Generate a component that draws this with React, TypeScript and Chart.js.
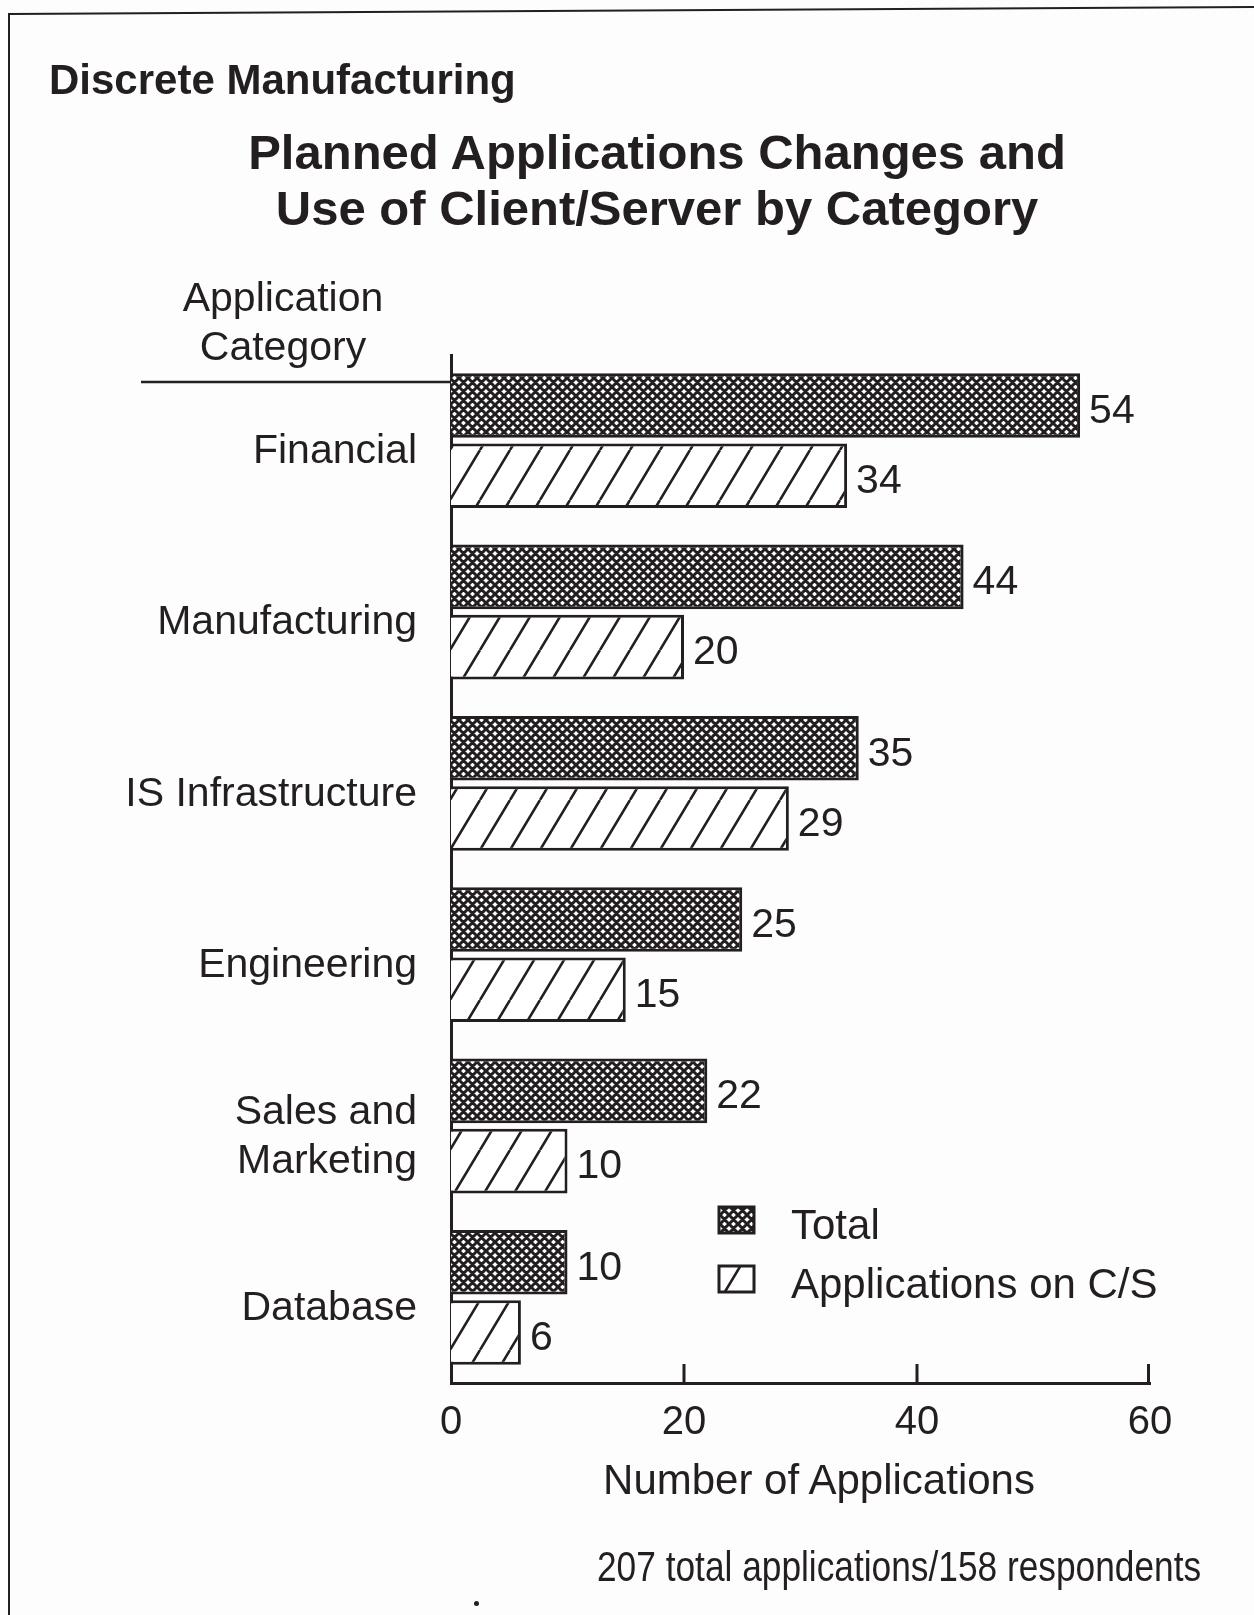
import React, { useEffect, useRef } from "react";
import { Chart, registerables } from "chart.js";

Chart.register(...registerables);

// ---- data ----
const categories: (string | string[])[] = [
  "Financial",
  "Manufacturing",
  "IS Infrastructure",
  "Engineering",
  ["Sales and", "Marketing"],
  "Database",
];
const totalValues = [54, 44, 35, 25, 22, 10];
const csValues = [34, 20, 29, 15, 10, 6];
const seriesLabels = ["Total", "Applications on C/S"];
const xTicks = [0, 20, 40, 60];

const subtitleText = "Discrete Manufacturing";
const titleLines = ["Planned Applications Changes and", "Use of Client/Server by Category"];
const yHeaderLines = ["Application", "Category"];
const xTitleText = "Number of Applications";
const footnoteText = "207 total applications/158 respondents";

const INK = "#231f20";
const FONT = "'Liberation Sans', Arial, Helvetica, sans-serif";

function makeCross(): CanvasPattern | string {
  const c = document.createElement("canvas");
  c.width = 9;
  c.height = 9;
  const g = c.getContext("2d");
  if (!g) return INK;
  g.fillStyle = "#ffffff";
  g.fillRect(0, 0, 9, 9);
  g.strokeStyle = INK;
  g.lineWidth = 3;
  g.beginPath();
  for (const o of [-9, 0, 9]) {
    g.moveTo(o, 0);
    g.lineTo(o + 9, 9);
    g.moveTo(o, 9);
    g.lineTo(o + 9, 0);
  }
  g.stroke();
  return g.createPattern(c, "repeat") || INK;
}

function makeHatch(): CanvasPattern | string {
  const w = 30;
  const h = 50;
  const c = document.createElement("canvas");
  c.width = w;
  c.height = h;
  const g = c.getContext("2d");
  if (!g) return "#fff";
  g.fillStyle = "#ffffff";
  g.fillRect(0, 0, w, h);
  g.strokeStyle = INK;
  g.lineWidth = 2.6;
  g.beginPath();
  for (const o of [-w, 0, w]) {
    g.moveTo(o, h);
    g.lineTo(o + w, 0);
  }
  g.stroke();
  return g.createPattern(c, "repeat") || "#fff";
}

const decorPlugin = {
  id: "decor",
  afterDraw(chart: any) {
    const ctx: CanvasRenderingContext2D = chart.ctx;
    const area = chart.chartArea;
    const xs = chart.scales.x;
    ctx.save();

    // page frame
    ctx.strokeStyle = INK;
    ctx.lineWidth = 2;
    ctx.beginPath();
    ctx.moveTo(9, 1615);
    ctx.lineTo(9, 14);
    ctx.lineTo(1254, 7);
    ctx.stroke();

    // header underline
    ctx.lineWidth = 2.5;
    ctx.beginPath();
    ctx.moveTo(141, area.top + 27);
    ctx.lineTo(area.left, area.top + 27);
    ctx.stroke();

    // upward tick marks on x axis
    ctx.lineWidth = 3;
    ctx.beginPath();
    for (const t of xs.ticks) {
      if (t.value === xs.min) continue;
      const px = Math.min(xs.getPixelForValue(t.value), area.right - 1.5);
      ctx.moveTo(px, area.bottom);
      ctx.lineTo(px, area.bottom - 19);
    }
    ctx.stroke();

    // value labels
    ctx.fillStyle = INK;
    ctx.font = `41px ${FONT}`;
    ctx.textAlign = "left";
    ctx.textBaseline = "middle";
    chart.data.datasets.forEach((ds: any, di: number) => {
      const meta = chart.getDatasetMeta(di);
      meta.data.forEach((el: any, i: number) => {
        ctx.fillText(String(ds.data[i]), el.x + 9, el.y + 6);
      });
    });

    // legend
    const lx = 719;
    const ly = [1207, 1266];
    chart.data.datasets.forEach((ds: any, di: number) => {
      const y = ly[di];
      ctx.fillStyle = ds.backgroundColor;
      ctx.fillRect(lx, y, 35, 26);
      ctx.strokeStyle = INK;
      ctx.lineWidth = 3;
      ctx.strokeRect(lx, y, 35, 26);
      ctx.fillStyle = INK;
      ctx.font = `42px ${FONT}`;
      ctx.textBaseline = "middle";
      ctx.fillText(ds.label, 791, y + 20);
    });

    ctx.restore();
  },
};

export default function App() {
  const ref = useRef<HTMLCanvasElement | null>(null);

  useEffect(() => {
    const canvas = ref.current;
    if (!canvas) return;
    const cross = makeCross();
    const hatch = makeHatch();
    const chart = new Chart(canvas, {
      type: "bar",
      data: {
        labels: categories as any,
        datasets: [
          {
            label: seriesLabels[0],
            data: totalValues,
            backgroundColor: cross as any,
            borderColor: INK,
            borderWidth: 3,
            categoryPercentage: 0.82,
            barPercentage: 0.92,
          },
          {
            label: seriesLabels[1],
            data: csValues,
            backgroundColor: hatch as any,
            borderColor: INK,
            borderWidth: 3,
            categoryPercentage: 0.82,
            barPercentage: 0.92,
          },
        ],
      },
      options: {
        indexAxis: "y",
        responsive: false,
        animation: false,
        devicePixelRatio: 1,
        layout: { padding: { top: 355, right: 104, bottom: 0, left: 0 } },
        plugins: {
          legend: { display: false },
          tooltip: { enabled: false },
          title: { display: false },
        },
        scales: {
          x: {
            type: "linear",
            position: "bottom",
            min: 0,
            max: 60,
            afterBuildTicks: (s: any) => {
              s.ticks = xTicks.map((v) => ({ value: v }));
            },
            ticks: {
              font: { family: FONT, size: 40 },
              color: INK,
              padding: 16,
              maxRotation: 0,
            },
            grid: { display: false, drawTicks: false },
            border: { display: true, color: INK, width: 3 },
            afterFit: (s: any) => {
              s.height = 232;
            },
          },
          y: {
            type: "category",
            ticks: {
              font: { family: FONT, size: 41, lineHeight: 1.2 },
              color: INK,
              padding: 34,
              labelOffset: 11,
            },
            grid: { display: false, drawTicks: false },
            border: { display: true, color: INK, width: 3 },
            afterFit: (s: any) => {
              s.width = 451;
            },
          },
        },
      } as any,
      plugins: [decorPlugin],
    });
    return () => chart.destroy();
  }, []);

  const base: React.CSSProperties = {
    position: "absolute",
    fontFamily: FONT,
    color: INK,
    whiteSpace: "nowrap",
    margin: 0,
  };

  return (
    <div
      style={{
        position: "absolute",
        left: 0,
        top: 0,
        width: 1254,
        height: 1615,
        background: "#fdfdfd",
        overflow: "hidden",
      }}
    >
      <canvas ref={ref} width={1254} height={1615} style={{ position: "absolute", left: 0, top: 0 }} />
      <div style={{ ...base, left: 49, top: 55, fontSize: 42, lineHeight: "50px", fontWeight: "bold" }}>
        {subtitleText}
      </div>
      <div
        style={{
          ...base,
          left: 657,
          top: 124,
          transform: "translateX(-50%)",
          fontSize: 49,
          lineHeight: "56px",
          fontWeight: "bold",
          textAlign: "center",
        }}
      >
        {titleLines.map((l, i) => (
          <div key={i}>{l}</div>
        ))}
      </div>
      <div
        style={{
          ...base,
          left: 283,
          top: 273,
          transform: "translateX(-50%)",
          fontSize: 41,
          lineHeight: "49px",
          textAlign: "center",
        }}
      >
        {yHeaderLines.map((l, i) => (
          <div key={i}>{l}</div>
        ))}
      </div>
      <div
        style={{
          ...base,
          left: 819,
          top: 1455,
          transform: "translateX(-50%)",
          fontSize: 42,
          lineHeight: "50px",
        }}
      >
        {xTitleText}
      </div>
      <div
        style={{
          ...base,
          left: 597,
          top: 1542,
          transform: "scaleX(0.84)",
          transformOrigin: "left center",
          fontSize: 42,
          lineHeight: "50px",
        }}
      >
        {footnoteText}
      </div>
      <div
        style={{
          position: "absolute",
          left: 474,
          top: 1601,
          width: 5,
          height: 5,
          borderRadius: 3,
          background: INK,
        }}
      />
    </div>
  );
}
